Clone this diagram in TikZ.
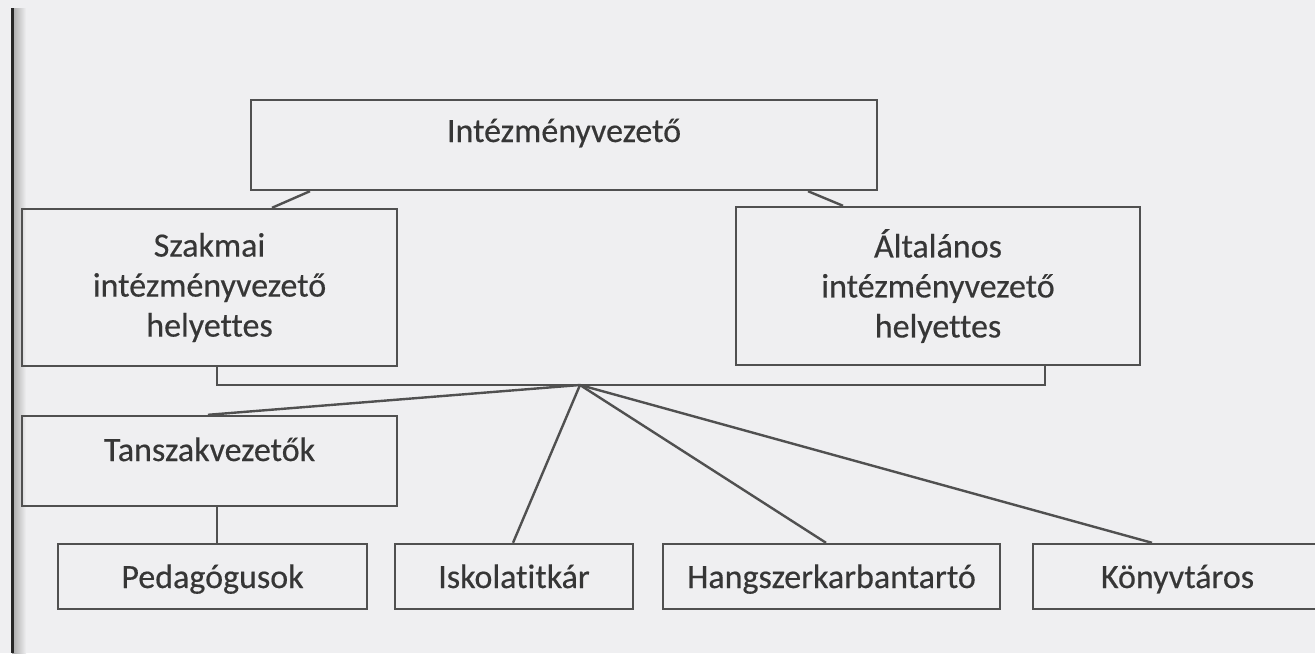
\documentclass[tikz,border=0pt]{standalone}
\usepackage{fontspec}
\setmainfont{Carlito}[Ligatures={NoCommon}, FakeBold=0.4]
\usetikzlibrary{positioning}
\definecolor{papir}{HTML}{EFEFF1}
\definecolor{strekfarge}{HTML}{505050}
\definecolor{tekst}{HTML}{363636}

\begin{document}
\begin{tikzpicture}[
x=0.5pt, y=-0.5pt,
  boks/.style = {rectangle, draw=strekfarge, line width=1.2pt, text=tekst,
                 align=center, inner sep=0pt, font=\fontsize{17}{20}\selectfont},
   lav/.style = {boks, text height=22pt, text depth=10.5pt},
 strek/.style = {strekfarge, line width=1.2pt}
                    ]
% page
\useasboundingbox (0,0) rectangle (1315,653);
\fill[papir] (0,0) rectangle (1315,653);
\shade[left color=black!35, right color=papir] (12,8) rectangle (26,653);
\draw[black!85, line width=1.5pt] (12,8) -- (12,653);

%nodes
\node[boks, minimum width=313pt, text height=21pt, text depth=24pt] (vezeto) at (564,145) {Intézményvezető};
\node[boks, minimum width=187.5pt, minimum height=78.5pt] (szakmai) at (209.5,287.5) {Szakmai\\intézményvezető\\helyettes};
\node[boks, minimum width=202pt, minimum height=79pt] (altalanos) at (938,286) {Általános\\intézményvezető\\helyettes};
\node[boks, minimum width=187.5pt, text height=22.5pt, text depth=22.5pt] (tanszak) at (209.5,461) {Tanszakvezetők};

\node[lav, minimum width=154.5pt] (pedagog) at (212.5,576.5) {Pedagógusok};
\node[lav, minimum width=119pt] (titkar) at (514,576.5) {Iskolatitkár};
\node[lav, minimum width=168.5pt] (hangszer) at (831.5,576.5) {Hangszerkarbantartó};
\node[lav, minimum width=144.5pt] (konyvtar) at (1177.5,576.5) {Könyvtáros};

\coordinate (hub) at (580,385);

% edges
\draw[strek] (vezeto.south -| 310,0) edge (szakmai.north -| 272,0)
(vezeto.south -| 808,0) edge (altalanos.north -| 843,0)
(tanszak.south -| 217,0) edge (pedagog.north -| 217,0);

\draw[strek] (szakmai.south -| 217,0) |- (hub) -| (altalanos.south -| 1045,0);

\draw[strek] (hub) edge (tanszak.north -| 208,0)
(hub) edge (titkar.north -| 513,0)
(hub) edge (hangszer.north -| 826,0)
(hub) edge (konyvtar.north -| 1152,0);
    \end{tikzpicture}
\end{document}
